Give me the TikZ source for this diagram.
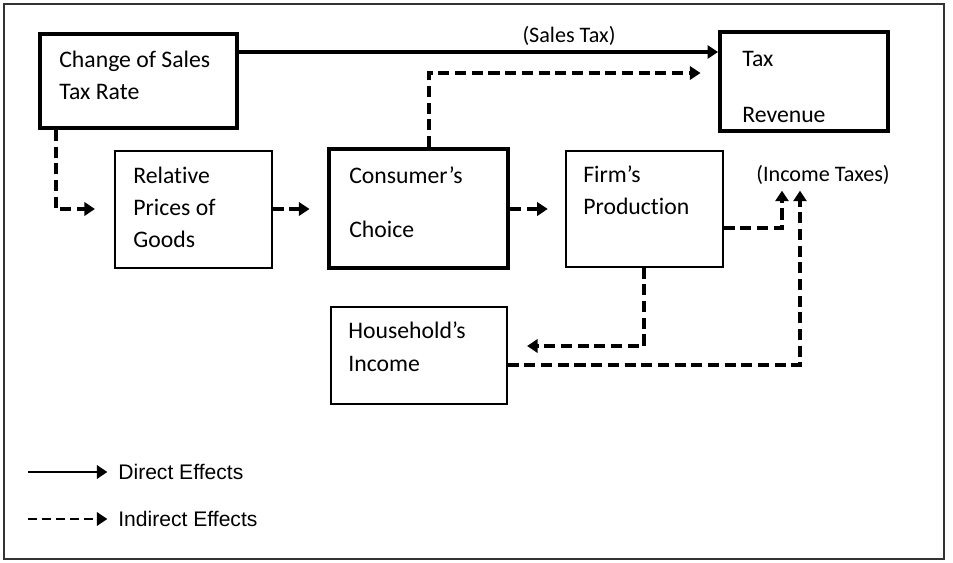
\documentclass[tikz,border=0pt]{standalone}
\usepackage{fontspec}
\setmainfont{Carlito}[Ligatures=NoCommon]
\newfontfamily\legendfont{Liberation Sans}
\usetikzlibrary{arrows.meta, positioning, fit, calc}

\begin{document}
\begin{tikzpicture}[
    x=0.02cm, y=-0.02cm,
    heavybox/.style={rectangle, draw, line width=2.2pt, inner sep=0pt},
    lightbox/.style={rectangle, draw, line width=0.8pt, inner sep=0pt},
    boxtext/.style={anchor=base west, inner sep=0pt, align=left, font=\fontsize{13.5}{#1}\selectfont},
    direct/.style={-{Triangle[length=6pt,width=7.5pt]}, line width=2.2pt},
    indirect/.style={direct, dash pattern=on 6.3pt off 3.2pt},
    note/.style={anchor=base, inner sep=0pt, font=\fontsize{12.6}{14}\selectfont},
    legendtext/.style={anchor=west, inner sep=0pt, font=\legendfont\fontsize{12}{14}\selectfont}
]
    \useasboundingbox (0,0) rectangle (953,563);
    \draw[line width=1.5pt, black!80] (4,4) rectangle (944,559);

    % boxes
    \node[heavybox, fit={(40,34) (237,128)}] (change) {};
    \node[heavybox, fit={(720,32) (888,131)}] (revenue) {};
    \node[lightbox, fit={(115,151) (272,268)}] (prices) {};
    \node[heavybox, fit={(329,149) (508,268)}] (choice) {};
    \node[lightbox, fit={(566,151) (723,267)}] (production) {};
    \node[lightbox, fit={(331,307) (507,404)}] (income) {};

    % box texts (placed by the baseline of their last line)
    \node[boxtext=18.7pt] (change-t) at (59,100) {Change of Sales\\Tax Rate};
    \node[boxtext=32.3pt] (revenue-t) at (742,123) {Tax\\Revenue};
    \node[boxtext=18.4pt] (prices-t) at (133,248) {Relative\\Prices of\\Goods};
    \node[boxtext=31.2pt] (choice-t) at (349,238) {Consumer's\\Choice};
    \node[boxtext=18.7pt] (production-t) at (583,215) {Firm's\\Production};
    \node[boxtext=19.3pt] (income-t) at (348,372) {Household's\\Income};

    \node[note] (salestax) at (569,43) {(Sales Tax)};
    \node[note] (incometax) at (823,182) {(Income Taxes)};

    % direct effect
    \draw[direct] (change.east |- 0,52) -- (revenue.west |- 0,52);

    % indirect effects
    \draw[indirect] (change.south -| 56,0) |- (prices.west |- 0,209) [shorten >=11pt];
    \draw[indirect, shorten >=10pt] (prices.east |- 0,209) -- (choice.west |- 0,209);
    \draw[indirect, shorten >=10pt] (choice.east |- 0,209) -- (production.west |- 0,209);
    \draw[indirect, shorten >=10pt] (choice.north -| 429,0) |- (revenue.west |- 0,73);
    \draw[indirect, shorten >=3pt] (production.east |- 0,228) -| (incometax.south -| 782,0);
    \draw[indirect, shorten >=3pt] (income.east |- 0,365) -| (incometax.south -| 800,0);
    \draw[indirect, shorten >=11pt] (production.south -| 644,0) |- (income.east |- 0,346);

    % legend
    \coordinate (solid-start) at (28,472);
    \coordinate (dash-start) at (28,519);
    \node[legendtext] (direct-t) at (118,472) {Direct Effects};
    \node[legendtext] (indirect-t) at (118,519) {Indirect Effects};
    \draw[direct, line width=1.6pt, shorten >=6pt] (solid-start) -- (direct-t.west);
    \draw[indirect, line width=1.6pt, dash pattern=on 5pt off 3pt, shorten >=6pt] (dash-start) -- (indirect-t.west);
\end{tikzpicture}
\end{document}
